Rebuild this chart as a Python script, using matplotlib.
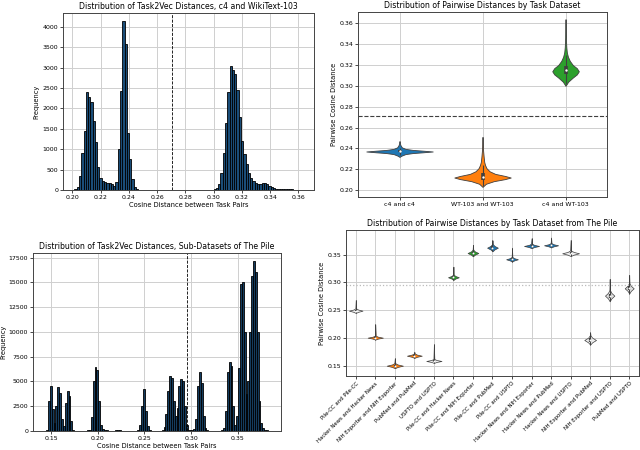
import numpy as np
from matplotlib import pyplot as plt

# --- c4 / WikiText-103 histogram (bin heights)
c4wt_bin_start = 0.2015
c4wt_bin_width = 0.001615
c4wt_counts = [
    20, 80, 350, 900, 1450, 2400, 2270, 2150, 1700, 1170,
    560, 290, 210, 200, 180, 170, 140, 110, 200, 1000,
    2430, 4130, 3575, 1400, 750, 280, 70, 20, 10, 3,
    0, 0, 0, 0, 0, 0, 0, 0, 0, 0,
    0, 0, 0, 0, 0, 0, 0, 0, 0, 0,
    0, 0, 0, 0, 0, 0, 0, 0, 0, 3,
    10, 20, 50, 150, 420, 900, 1650, 2400, 3050, 2950,
    2850, 2450, 1800, 1200, 880, 640, 420, 300, 230, 170,
    150, 150, 160, 165, 150, 110, 70, 40, 25, 20,
    20, 15, 15, 20, 20, 15, 10, 5, 3, 2,
]
c4wt_threshold = 0.2708

# --- The Pile histogram
pile_bin_start = 0.1425
pile_bin_width = 0.002
pile_counts = [
    0, 100, 3000, 4500, 2200, 800, 2500, 4450, 3800, 1200,
    500, 2800, 4050, 3500, 1000, 150, 50, 30, 20, 20,
    20, 30, 40, 60, 150, 1400, 5000, 6500, 6200, 3000,
    600, 250, 150, 80, 50, 40, 40, 50, 80, 100,
    90, 50, 20, 10, 10, 10, 10, 10, 10, 20,
    100, 600, 2500, 4250, 2000, 500, 100, 30, 20, 20,
    20, 20, 20, 80, 400, 1700, 4000, 5500, 5300, 3000,
    1500, 2300, 4500, 5200, 5000, 2500, 600, 150, 60, 80,
    200, 1200, 4500, 5950, 4800, 1500, 300, 100, 40, 40,
    40, 40, 40, 40, 40, 80, 300, 2000, 6000, 6950,
    6600, 2500, 600, 1500, 6400, 14800, 15000, 10000, 3700, 5000,
    10000, 15600, 17100, 16000, 10000, 3000, 800, 300, 150, 80,
    30,
]
pile_threshold = 0.2954

# --- c4 / WT-103 violins
c4wt_pairs = ['c4 and c4', 'WT-103 and WT-103', 'c4 and WT-103']
c4wt_colors = ['#1f77b4', '#ff7f0e', '#2ca02c']
violin_y = [
    [0.2318, 0.2330, 0.2345, 0.2355, 0.2362, 0.2370, 0.2378, 0.2385,
     0.2395, 0.2410, 0.2430, 0.2450, 0.2470],
    [0.2030, 0.2060, 0.2085, 0.2105, 0.2120, 0.2135, 0.2155, 0.2180,
     0.2210, 0.2240, 0.2270, 0.2320, 0.2380, 0.2440, 0.2510],
    [0.3000, 0.3040, 0.3080, 0.3110, 0.3140, 0.3170, 0.3200, 0.3240,
     0.3280, 0.3320, 0.3370, 0.3420, 0.3500, 0.3580, 0.3640],
]
violin_dens = [
    [0.00, 0.06, 0.18, 0.40, 0.70, 1.00, 0.70, 0.40, 0.18, 0.07, 0.03,
     0.01, 0.00],
    [0.00, 0.12, 0.40, 0.80, 1.00, 0.80, 0.45, 0.25, 0.14, 0.09, 0.06,
     0.04, 0.02, 0.01, 0.00],
    [0.00, 0.20, 0.55, 0.85, 1.00, 0.85, 0.55, 0.32, 0.18, 0.10, 0.06,
     0.04, 0.02, 0.01, 0.00],
]
violin_widths = [0.80, 0.68, 0.32]
violin_q1 = [0.2362, 0.2100, 0.3110]
violin_q3 = [0.2380, 0.2160, 0.3190]
violin_med = [0.2371, 0.2125, 0.3150]
violin_lo = [0.2335, 0.2040, 0.3020]
violin_hi = [0.2405, 0.2245, 0.3300]

# --- The Pile violins
pile_pairs = [
    'Pile-CC and Pile-CC', 'Hacker News and Hacker News',
    'NIH Exporter and NIH Exporter', 'PubMed and PubMed',
    'USPTO and USPTO', 'Pile-CC and Hacker News',
    'Pile-CC and NIH Exporter', 'Pile-CC and PubMed', 'Pile-CC and USPTO',
    'Hacker News and NIH Exporter', 'Hacker News and PubMed',
    'Hacker News and USPTO', 'NIH Exporter and PubMed',
    'NIH Exporter and USPTO', 'PubMed and USPTO',
]
pile_mode = [0.2491, 0.2005, 0.1500, 0.1680, 0.1585, 0.3093, 0.3530, 0.3626,
             0.3417, 0.3657, 0.3669, 0.3525, 0.1963, 0.2762, 0.2894]
pile_low = [0.2450, 0.1970, 0.1455, 0.1640, 0.1550, 0.3045, 0.3470, 0.3560,
            0.3375, 0.3617, 0.3630, 0.3475, 0.1880, 0.2660, 0.2800]
pile_high = [0.2684, 0.2246, 0.1633, 0.1752, 0.1886, 0.3284, 0.3675, 0.3760,
             0.3626, 0.3795, 0.3809, 0.3765, 0.2100, 0.3062, 0.3134]
pile_width = [0.69, 0.78, 0.83, 0.76, 0.78, 0.55, 0.55, 0.55, 0.60, 0.77,
              0.72, 0.86, 0.60, 0.48, 0.46]
pile_colors = ['#eeeeee', '#ff7f0e', '#ff7f0e', '#ff7f0e', '#eeeeee',
               '#2ca02c', '#2ca02c', '#1f77b4', '#1f77b4', '#1f77b4',
               '#1f77b4', '#eeeeee', '#eeeeee', '#e0e0e0', '#e0e0e0']
pile_shape_pos = [-1.0, -0.5, 0.0, 0.5, 1.0]
pile_shape_val = [0.0, 0.35, 1.0, 0.35, 0.06]
pile_threshold_y = 0.295

TITLE = 5.6
LABEL = 4.8
TICK = 4.5
EDGE = '#3f3f3f'

plt.rcParams['font.family'] = 'DejaVu Sans'
plt.rcParams['axes.edgecolor'] = '#444444'
plt.rcParams['axes.linewidth'] = 0.7
plt.rcParams['grid.color'] = '#cfcfcf'
plt.rcParams['grid.linewidth'] = 0.7

fig = plt.figure(figsize=(6.4, 4.5), dpi=100)


def style_axes(ax):
    ax.grid(True)
    ax.set_axisbelow(True)
    ax.tick_params(labelsize=TICK, length=2, width=0.5, pad=1.5)


def draw_hist(ax, start, width, counts, threshold, title, face):
    centers = start + width * (np.arange(len(counts)) + 0.5)
    ax.bar(centers, counts, width=width, color=face,
           edgecolor='black', linewidth=0.6)
    ax.axvline(threshold, color='black', linestyle='--', linewidth=0.6)
    ax.set_title(title, fontsize=TITLE, pad=3)
    ax.set_xlabel('Cosine Distance between Task Pairs', fontsize=LABEL,
                  labelpad=1.5)
    ax.set_ylabel('Frequency', fontsize=LABEL, labelpad=2)
    lo = start
    hi = start + width * len(counts)
    m = 0.05 * (hi - lo)
    ax.set_xlim(lo - m, hi + m)
    ax.set_ylim(0, max(counts) * 1.05)
    style_axes(ax)


# top left
ax1 = fig.add_axes([0.0984, 0.5778, 0.3922, 0.3933])
draw_hist(ax1, c4wt_bin_start, c4wt_bin_width, c4wt_counts, c4wt_threshold,
          'Distribution of Task2Vec Distances, c4 and WikiText-103',
          '#1a4d78')
ax1.set_xticks(np.arange(0.20, 0.361, 0.02))
ax1.set_yticks(np.arange(0, 4001, 500))
ax1.xaxis.set_major_formatter(plt.FormatStrFormatter('%.2f'))

# bottom left
ax3 = fig.add_axes([0.0516, 0.0422, 0.3875, 0.3956])
draw_hist(ax3, pile_bin_start, pile_bin_width, pile_counts, pile_threshold,
          'Distribution of Task2Vec Distances, Sub-Datasets of The Pile',
          '#143c5e')
ax3.set_xticks(np.arange(0.15, 0.351, 0.05))
ax3.set_yticks(np.arange(0, 17501, 2500))
ax3.xaxis.set_major_formatter(plt.FormatStrFormatter('%.2f'))

# top right
ax2 = fig.add_axes([0.5594, 0.5622, 0.3891, 0.4111])
stats = []
for i in range(len(c4wt_pairs)):
    stats.append({'coords': np.array(violin_y[i]),
                  'vals': np.array(violin_dens[i]),
                  'mean': violin_med[i], 'median': violin_med[i],
                  'min': violin_y[i][0], 'max': violin_y[i][-1]})
parts = ax2.violin(stats, positions=range(len(c4wt_pairs)),
                   widths=violin_widths, showmeans=False,
                   showextrema=False, showmedians=False)
for body, col in zip(parts['bodies'], c4wt_colors):
    body.set_facecolor(col)
    body.set_edgecolor(EDGE)
    body.set_linewidth(0.6)
    body.set_alpha(1)
pos = np.arange(len(c4wt_pairs))
ax2.vlines(pos, violin_lo, violin_hi, color=EDGE, linewidth=0.8, zorder=3)
ax2.vlines(pos, violin_q1, violin_q3, color=EDGE, linewidth=2.6, zorder=3)
ax2.scatter(pos, violin_med, s=3, color='white', zorder=4, linewidths=0)
ax2.axhline(c4wt_threshold, color=EDGE, linestyle='--', linewidth=0.8)
ax2.set_xticks(pos)
ax2.set_xticklabels(c4wt_pairs)
ax2.set_xlim(-0.5, 2.5)
ax2.set_ylim(0.1933, 0.3709)
ax2.set_yticks(np.arange(0.20, 0.361, 0.02))
ax2.yaxis.set_major_formatter(plt.FormatStrFormatter('%.2f'))
ax2.set_title('Distribution of Pairwise Distances by Task Dataset',
              fontsize=TITLE, pad=3)
ax2.set_ylabel('Pairwise Cosine Distance', fontsize=LABEL, labelpad=2)
style_axes(ax2)

# bottom right
ax4 = fig.add_axes([0.5406, 0.1644, 0.4578, 0.3244])
stats = []
for i in range(len(pile_pairs)):
    half = pile_mode[i] - pile_low[i]
    coords = [pile_mode[i] + p * half for p in pile_shape_pos]
    coords.append(pile_high[i])
    vals = list(pile_shape_val) + [0.0]
    stats.append({'coords': np.array(coords), 'vals': np.array(vals),
                  'mean': pile_mode[i], 'median': pile_mode[i],
                  'min': pile_low[i], 'max': pile_high[i]})
pos = np.arange(len(pile_pairs))
parts = ax4.violin(stats, positions=pos, widths=pile_width,
                   showmeans=False, showextrema=False, showmedians=False)
for body, col in zip(parts['bodies'], pile_colors):
    body.set_facecolor(col)
    body.set_edgecolor(EDGE)
    body.set_linewidth(0.5)
    body.set_alpha(1)
ax4.vlines(pos, pile_low, pile_high, color=EDGE, linewidth=0.7, zorder=3)
half = np.array(pile_mode) - np.array(pile_low)
ax4.vlines(pos, np.array(pile_mode) - 0.35 * half,
           np.array(pile_mode) + 0.35 * half, color=EDGE, linewidth=1.6,
           zorder=3)
ax4.scatter(pos, pile_mode, s=2, color='white', zorder=4, linewidths=0)
ax4.axhline(pile_threshold_y, color='#bbbbbb', linestyle=':', linewidth=0.9)
ax4.set_xticks(pos)
ax4.set_xticklabels(pile_pairs, rotation=45, ha='right',
                    rotation_mode='anchor')
ax4.set_xlim(-0.5, 14.5)
ax4.set_ylim(0.1314, 0.3944)
ax4.set_yticks(np.arange(0.15, 0.351, 0.05))
ax4.yaxis.set_major_formatter(plt.FormatStrFormatter('%.2f'))
ax4.set_title('Distribution of Pairwise Distances by Task Dataset from The Pile',
              fontsize=TITLE, pad=3)
ax4.set_ylabel('Pairwise Cosine Distance', fontsize=LABEL, labelpad=2)
style_axes(ax4)
ax4.tick_params(axis='x', labelsize=3.9)

fig.savefig('out.png', dpi=100)
